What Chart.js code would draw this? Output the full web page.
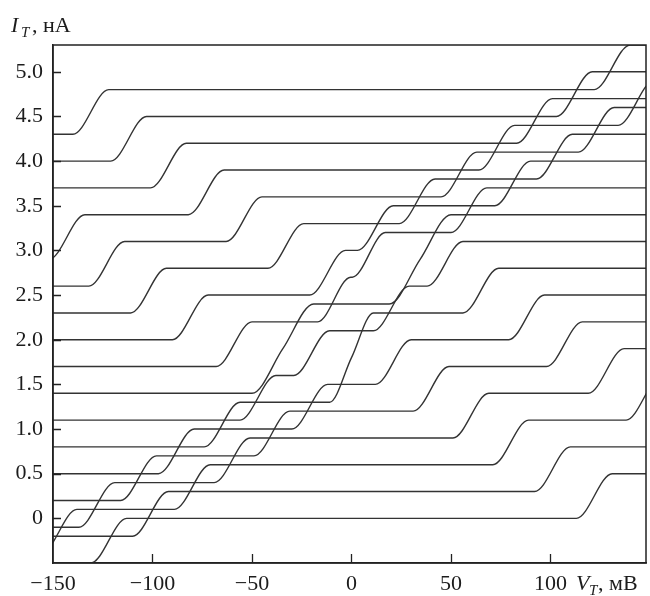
<!DOCTYPE html>
<html><head><meta charset="utf-8">
<script src="https://cdn.jsdelivr.net/npm/chart.js@4/dist/chart.umd.min.js"></script>
<style>html,body{margin:0;padding:0;background:#fff}</style>
</head><body>
<canvas id="c" width="650" height="596"></canvas>
<script>
// ---- data ----
// centre (V = 0) current level of every curve, nA (curves offset by 0.3 nA)
const curveLevels = [0.0, 0.3, 0.6, 0.9, 1.2, 1.5, 1.8, 2.1, 2.4, 2.7, 3.0, 3.3, 3.6, 3.9, 4.2, 4.5, 4.8];
// first family of steps (|V| in mV, steps at +V and -V); null = outside the plotted range
const stepA = [122, 101, 80, 60, 40, 21, 2, 20, 41, 59, 81, 102, 123, 143, null, null, null];
// second family of steps (|V| in mV)
const stepB = [null, null, 147, 128, 107, 88, 65, 47, 28, 8, 12, 33, 54, 73, 92, 112, 131];
// height of every step, nA
const stepHeight = 0.5;
// tick labels
const xTicks = [-150, -100, -50, 0, 50, 100];
const yTicks = [0, 0.5, 1.0, 1.5, 2.0, 2.5, 3.0, 3.5, 4.0, 4.5, 5.0];

const X_MIN = -150, X_MAX = 148, Y_MIN = -0.5, Y_MAX = 5.3;
const HALF_W = 9;      // half width of a step transition (mV), drawing style
const MERGE_GAP = 14;  // steps closer than this are drawn as one continuous rise
const LINE_COLOR = '#333333';

function curvePoints(k) {
  const c = curveLevels[k];
  const s = [];
  [stepA[k], stepB[k]].forEach(v => { if (v !== null) { s.push(-v); s.push(v); } });
  s.sort((a, b) => a - b);
  const nNeg = s.filter(v => v < 0).length;
  let lvl = c - stepHeight * nNeg;
  const groups = [];
  for (const v of s) {
    const g = groups[groups.length - 1];
    if (g && v - g[g.length - 1] < MERGE_GAP) g.push(v); else groups.push([v]);
  }
  const pts = [{x: X_MIN - 15, y: lvl}];
  groups.forEach((g, i) => {
    const prevEnd = i > 0 ? groups[i - 1][groups[i - 1].length - 1] : -1e9;
    const nextStart = i < groups.length - 1 ? groups[i + 1][0] : 1e9;
    const s1 = g[0], s2 = g[g.length - 1];
    const wl = Math.min(HALF_W, (s1 - prevEnd) / 2 * 0.95);
    const wr = Math.min(HALF_W, (nextStart - s2) / 2 * 0.95);
    pts.push({x: s1 - wl, y: lvl});
    if (g.length > 1) {
      pts.push({x: (s1 + s2) / 2, y: lvl + stepHeight * g.length / 2});
    }
    lvl += stepHeight * g.length;
    pts.push({x: s2 + wr, y: lvl});
  });
  pts.push({x: X_MAX + 15, y: lvl});
  return pts;
}

const datasets = curveLevels.map((c, k) => ({
  data: curvePoints(k),
  showLine: true,
  borderColor: LINE_COLOR,
  borderWidth: 1.4,
  pointRadius: 0,
  pointHoverRadius: 0,
  fill: false,
  cubicInterpolationMode: 'monotone'
}));

const FONT = '"Liberation Serif", "Times New Roman", serif';
const TXT = '#1c1c1c';

const decor = {
  id: 'decor',
  afterDraw(chart) {
    const {ctx, chartArea: a, scales: {x, y}} = chart;
    ctx.save();
    ctx.strokeStyle = '#222';
    ctx.lineWidth = 1.5;
    ctx.strokeRect(a.left, a.top, a.right - a.left, a.bottom - a.top);
    ctx.lineWidth = 1.3;
    ctx.beginPath();
    yTicks.forEach(v => {
      const py = Math.round(y.getPixelForValue(v)) + 0.5;
      ctx.moveTo(a.left, py); ctx.lineTo(a.left + 8, py);
    });
    xTicks.forEach(v => {
      if (v === X_MIN) return;
      const px = Math.round(x.getPixelForValue(v)) + 0.5;
      ctx.moveTo(px, a.bottom); ctx.lineTo(px, a.bottom - 9);
    });
    ctx.stroke();
    // axis titles
    ctx.fillStyle = TXT;
    ctx.textBaseline = 'alphabetic';
    ctx.textAlign = 'left';
    ctx.font = 'italic 22px ' + FONT;
    ctx.fillText('I', 11, 32);
    ctx.font = 'italic 15px ' + FONT;
    ctx.fillText('T', 21, 37);
    ctx.font = '22px ' + FONT;
    ctx.fillText(', нА', 32, 32);
    ctx.font = 'italic 22px ' + FONT;
    ctx.fillText('V', 576, 590);
    ctx.font = 'italic 15px ' + FONT;
    ctx.fillText('T', 589, 595);
    ctx.font = '22px ' + FONT;
    ctx.fillText(', мВ', 598, 590);
    ctx.restore();
  }
};

new Chart(document.getElementById('c'), {
  type: 'scatter',
  data: {datasets},
  options: {
    responsive: false,
    animation: false,
    devicePixelRatio: 1,
    events: [],
    layout: {padding: {top: 45, right: 4, left: 0, bottom: 0}},
    plugins: {legend: {display: false}, tooltip: {enabled: false}},
    scales: {
      x: {
        type: 'linear', min: X_MIN, max: X_MAX,
        afterBuildTicks: s => { s.ticks = xTicks.map(v => ({value: v})); },
        afterFit: s => { s.height = 33; },
        ticks: {
          callback: v => (v < 0 ? '\u2212' + Math.abs(v) : String(v)),
          font: {family: FONT, size: 22}, color: TXT, padding: 8, maxRotation: 0
        },
        grid: {display: true, drawOnChartArea: false, drawTicks: false},
        border: {display: true, color: '#222', width: 1.5}
      },
      y: {
        type: 'linear', min: Y_MIN, max: Y_MAX,
        afterBuildTicks: s => { s.ticks = yTicks.map(v => ({value: v})); },
        afterFit: s => { s.width = 53; },
        ticks: {
          callback: v => (v === 0 ? '0' : v.toFixed(1)),
          font: {family: FONT, size: 22}, color: TXT, padding: 10
        },
        grid: {display: true, drawOnChartArea: false, drawTicks: false},
        border: {display: true, color: '#222', width: 1.5}
      }
    }
  },
  plugins: [decor]
});
</script>
</body></html>
